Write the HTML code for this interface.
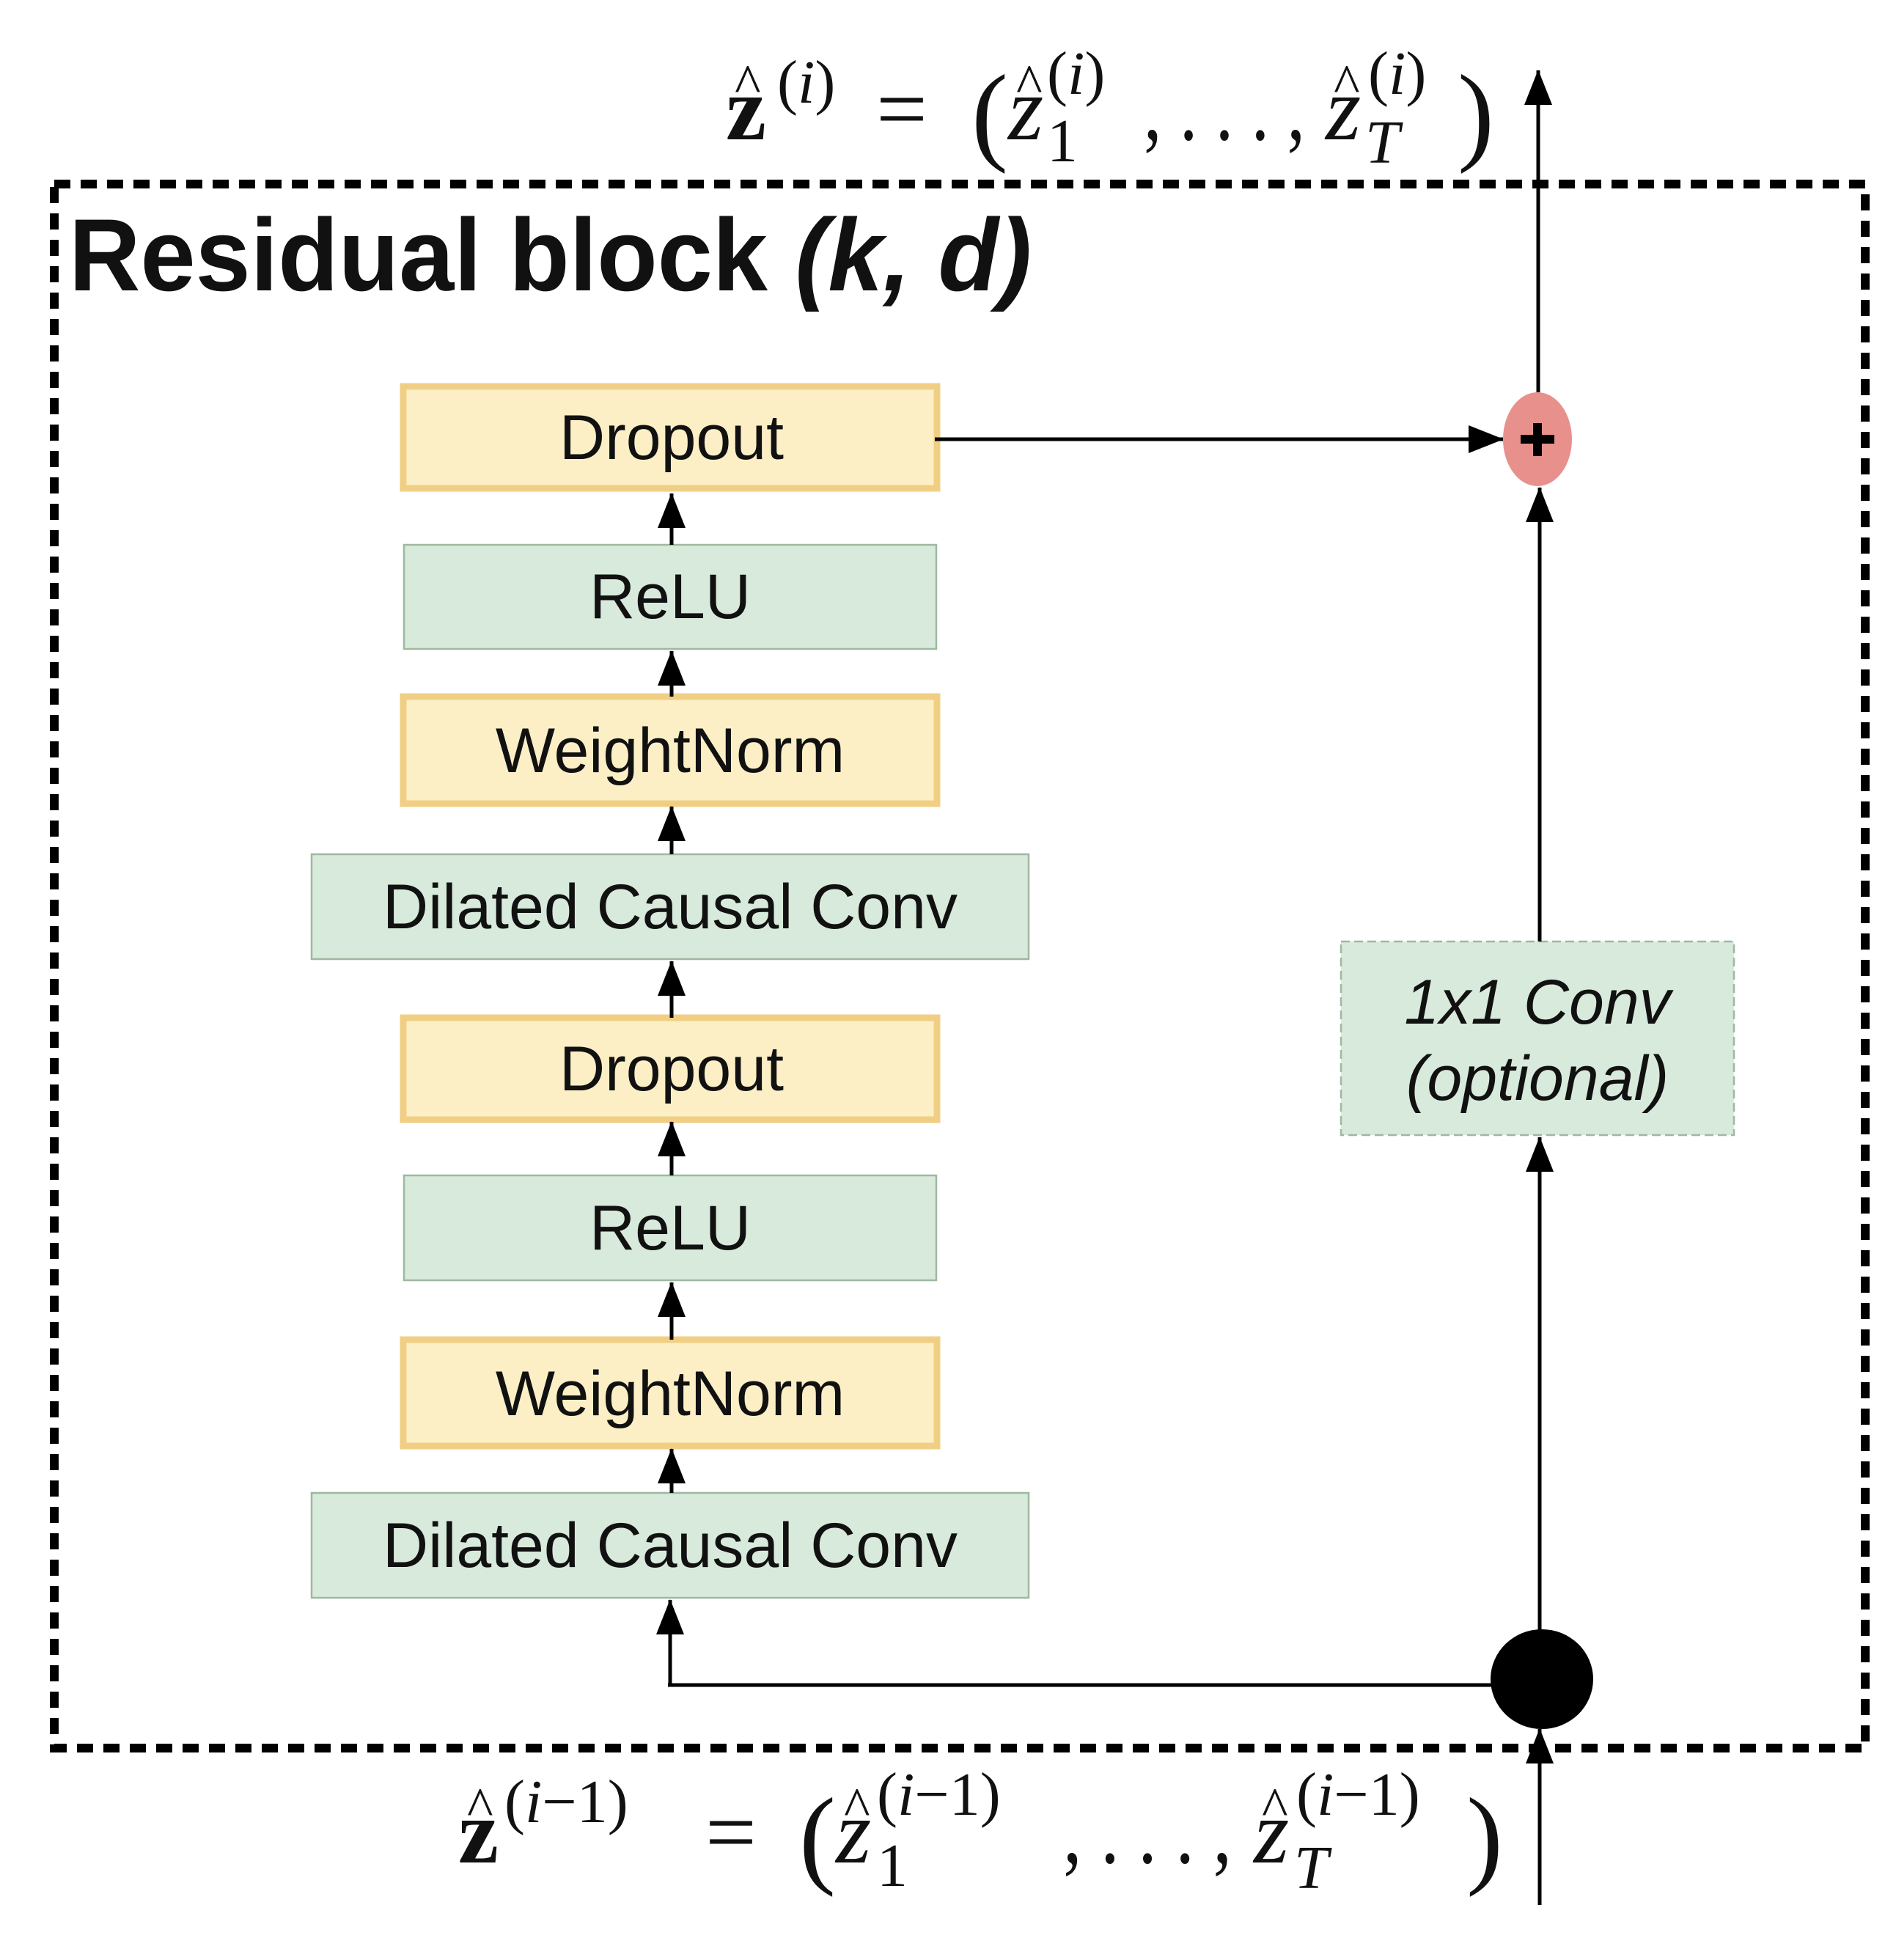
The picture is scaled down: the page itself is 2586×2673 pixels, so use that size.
<!DOCTYPE html>
<html><head><meta charset="utf-8"><style>
html,body{margin:0;padding:0;background:#fff;}
svg{display:block;}
.bt{font-family:"Liberation Sans",Arial,sans-serif;font-size:86px;text-anchor:middle;fill:#111;}
.m{font-family:"Liberation Serif","DejaVu Serif",serif;fill:#111;}
</style></head><body>
<svg width="2586" height="2673" viewBox="0 0 2586 2673" xmlns="http://www.w3.org/2000/svg">
<defs>
<marker id="a" markerWidth="48" markerHeight="38" refX="47" refY="19" orient="auto" markerUnits="userSpaceOnUse" viewBox="0 0 48 38">
<path d="M0,0 L48,19 L0,38 Z" fill="#000"/></marker>
</defs>
<rect x="74" y="251" width="2470" height="2133" fill="none" stroke="#000" stroke-width="12" stroke-dasharray="22,14"/>
<text x="94" y="396" font-family="Liberation Sans,Arial,sans-serif" font-weight="bold" font-size="140" fill="#111" textLength="1313" lengthAdjust="spacingAndGlyphs">Residual block <tspan font-style="italic">(k, d)</tspan></text>

<g stroke-width="9" stroke="#f0cf85" fill="#fcefc6">
<rect x="550" y="527" width="728" height="139"/>
<rect x="550" y="950" width="728" height="146"/>
<rect x="550" y="1388" width="728" height="139"/>
<rect x="550" y="1827" width="728" height="145"/>
</g>
<g stroke-width="2.5" stroke="#9fb8a0" fill="#d7eadb">
<rect x="551" y="743" width="726" height="142"/>
<rect x="425" y="1165" width="978" height="143"/>
<rect x="551" y="1603" width="726" height="143"/>
<rect x="425" y="2036" width="978" height="143"/>
</g>
<rect x="1829" y="1284" width="536" height="264" fill="#d7eadb" stroke="#9fb8a0" stroke-width="2.5" stroke-dasharray="12,6"/>

<text class="bt" x="916" y="626">Dropout</text>
<text class="bt" x="914" y="843">ReLU</text>
<text class="bt" x="914" y="1053">WeightNorm</text>
<text class="bt" x="914" y="1266">Dilated Causal Conv</text>
<text class="bt" x="916" y="1487">Dropout</text>
<text class="bt" x="914" y="1704">ReLU</text>
<text class="bt" x="914" y="1930">WeightNorm</text>
<text class="bt" x="914" y="2137">Dilated Causal Conv</text>
<text class="bt" x="2097" y="1396" font-style="italic">1x1 Conv</text>
<text class="bt" x="2097" y="1500" font-style="italic">(optional)</text>

<g stroke="#000" stroke-width="5" fill="none">
<line x1="916" y1="743" x2="916" y2="673" marker-end="url(#a)"/>
<line x1="916" y1="950" x2="916" y2="888" marker-end="url(#a)"/>
<line x1="916" y1="1165" x2="916" y2="1100" marker-end="url(#a)"/>
<line x1="916" y1="1388" x2="916" y2="1311" marker-end="url(#a)"/>
<line x1="916" y1="1603" x2="916" y2="1530" marker-end="url(#a)"/>
<line x1="916" y1="1827" x2="916" y2="1749" marker-end="url(#a)"/>
<line x1="916" y1="2036" x2="916" y2="1976" marker-end="url(#a)"/>
<line x1="914" y1="2298" x2="914" y2="2182" marker-end="url(#a)"/>
<line x1="911" y1="2298" x2="2100" y2="2298"/>
<line x1="1275" y1="599" x2="2050" y2="599" marker-end="url(#a)"/>
<line x1="2100" y1="1284" x2="2100" y2="665" marker-end="url(#a)"/>
<line x1="2100" y1="2230" x2="2100" y2="1551" marker-end="url(#a)"/>
<line x1="2100" y1="2598" x2="2100" y2="2358" marker-end="url(#a)"/>
<line x1="2098" y1="535" x2="2098" y2="96" marker-end="url(#a)"/>
</g>
<ellipse cx="2097" cy="599" rx="47" ry="64" fill="#e8908c"/>
<path d="M2074,599 H2120 M2097,577 V622" stroke="#000" stroke-width="12"/>
<ellipse cx="2103" cy="2290" rx="70" ry="68" fill="#000"/>

<g class="m" font-size="124">
<text x="990" y="190" font-weight="bold">z</text>
<text x="1002" y="140" font-size="76">^</text>
<text x="1060" y="140" font-size="84">(<tspan font-style="italic">i</tspan>)</text>
<text x="1195" y="190">=</text>
<text x="1325" y="205" font-size="150">(</text>
<text x="1375" y="190" font-style="italic">z</text>
<text x="1386" y="140" font-size="76">^</text>
<text x="1428" y="220" font-size="84">1</text>
<text x="1428" y="128" font-size="84">(<tspan font-style="italic">i</tspan>)</text>
<text x="1560" y="190" textLength="220" lengthAdjust="spacingAndGlyphs">, . . . ,</text>
<text x="1808" y="190" font-style="italic">z</text>
<text x="1819" y="140" font-size="76">^</text>
<text x="1862" y="222" font-size="84" font-style="italic">T</text>
<text x="1866" y="128" font-size="84">(<tspan font-style="italic">i</tspan>)</text>
<text x="1988" y="205" font-size="150">)</text>
</g>
<g class="m" font-size="124">
<text x="625" y="2540" font-weight="bold">z</text>
<text x="637" y="2490" font-size="76">^</text>
<text x="688" y="2485" font-size="84">(<tspan font-style="italic">i</tspan>−1)</text>
<text x="962" y="2540">=</text>
<text x="1090" y="2555" font-size="150">(</text>
<text x="1140" y="2540" font-style="italic">z</text>
<text x="1151" y="2490" font-size="76">^</text>
<text x="1196" y="2572" font-size="84">1</text>
<text x="1196" y="2475" font-size="84">(<tspan font-style="italic">i</tspan>−1)</text>
<text x="1450" y="2540" textLength="230" lengthAdjust="spacingAndGlyphs">, . . . ,</text>
<text x="1710" y="2540" font-style="italic">z</text>
<text x="1721" y="2490" font-size="76">^</text>
<text x="1765" y="2575" font-size="84" font-style="italic">T</text>
<text x="1768" y="2475" font-size="84">(<tspan font-style="italic">i</tspan>−1)</text>
<text x="2000" y="2555" font-size="150">)</text>
</g>
</svg>
</body></html>
